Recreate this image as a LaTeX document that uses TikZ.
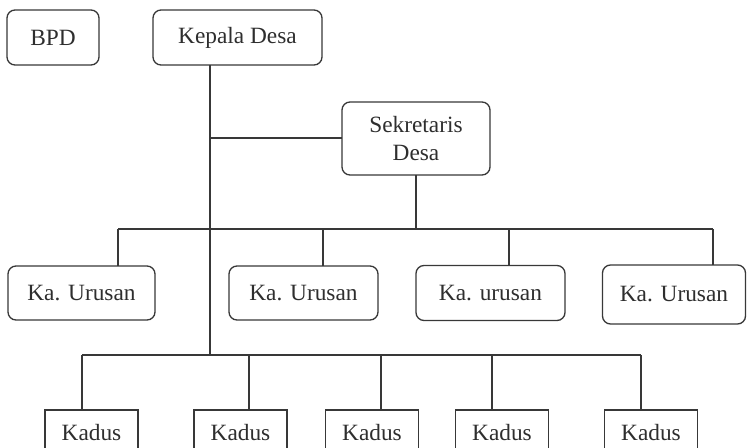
\documentclass[tikz,border=0pt]{standalone}
\usepackage{fontspec}
\setmainfont{Liberation Serif}
\begin{document}
\begin{tikzpicture}[x=0.75pt,y=-0.75pt,
  conn/.style={draw=black!78,line width=1pt},
  rbox/.style={draw=black!78,line width=1pt,rounded corners=6pt,inner sep=0pt,outer sep=0pt,
    text=black!82,font=\fontsize{17.5}{21}\selectfont,align=center},
  sbox/.style={draw=black!78,line width=1pt,inner sep=0pt,outer sep=0pt,
    text=black!82,font=\fontsize{17.5}{21}\selectfont,minimum width=69.75pt,minimum height=34.5pt}]
\useasboundingbox (0,0) rectangle (747,447);
\clip (0,0) rectangle (747,447);
% top level
\node[rbox,minimum width=69pt,minimum height=41.25pt] (bpd) at (53,37.5) {BPD};
\node[rbox,minimum width=126.75pt,minimum height=41.25pt] (kd) at (237.5,37.5) {Kepala Desa};
\node[rbox,minimum width=111pt,minimum height=54.75pt] (sd) at (416,138.5) {Sekretaris\\Desa};
% Ka. Urusan
\node[rbox,minimum width=110.25pt,minimum height=40.5pt] (ku1) at (81.5,293) {Ka. Urusan};
\node[rbox,minimum width=111.75pt,minimum height=40.5pt] (ku2) at (303.5,293) {Ka. Urusan};
\node[rbox,minimum width=111.75pt,minimum height=41.25pt] (ku3) at (490.5,293) {Ka. urusan};
\node[rbox,minimum width=107.25pt,minimum height=44.25pt] (ku4) at (674,294.5) {Ka. Urusan};
% Kadus
\node[sbox] (k1) at (91.5,433) {Kadus};
\node[sbox] (k2) at (240.5,433) {Kadus};
\node[sbox] (k3) at (372,433) {Kadus};
\node[sbox] (k4) at (502,433) {Kadus};
\node[sbox] (k5) at (651,433) {Kadus};
% coordinates
\coordinate (jS) at (210,138);
\coordinate (jK) at (210,355);
\coordinate (u1) at (118,229);
\coordinate (u2) at (323,229);
\coordinate (u3) at (509,229);
\coordinate (u4) at (713,229);
\coordinate (d1) at (82,355);
\coordinate (d2) at (249,355);
\coordinate (d3) at (381,355);
\coordinate (d4) at (492,355);
\coordinate (d5) at (641,355);
% connectors
\draw[conn] (jS |- kd.south) -- (jK);
\draw[conn] (jS) -- (sd.west |- jS);
\draw[conn] (sd.south) -- (sd.south |- u1);
\draw[conn] (u1) -- (u4);
\draw[conn] (u1) -- (u1 |- ku1.north);
\draw[conn] (u2) -- (u2 |- ku2.north);
\draw[conn] (u3) -- (u3 |- ku3.north);
\draw[conn] (u4) -- (u4 |- ku4.north);
\draw[conn] (d1) -- (d5);
\draw[conn] (d1) -- (d1 |- k1.north);
\draw[conn] (d2) -- (d2 |- k2.north);
\draw[conn] (d3) -- (d3 |- k3.north);
\draw[conn] (d4) -- (d4 |- k4.north);
\draw[conn] (d5) -- (d5 |- k5.north);
\end{tikzpicture}
\end{document}
